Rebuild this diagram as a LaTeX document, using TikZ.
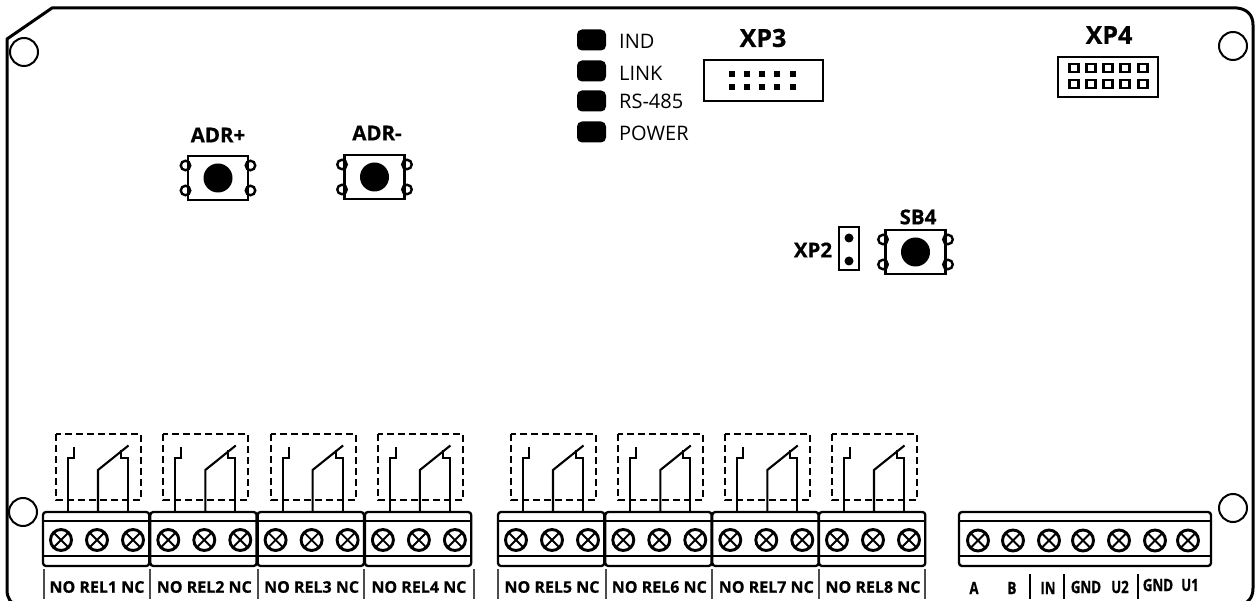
\documentclass[tikz,border=0pt]{standalone}
\usepackage{fontspec}
\setmainfont[BoldFeatures={FakeBold=0.6}]{Open Sans}
\newfontfamily\narrowfont[FakeStretch=0.78,BoldFeatures={FakeBold=0.6}]{Open Sans}
\tikzstyle{board} = [line width=3pt, line join=round]
\tikzstyle{hole} = [circle, draw=black, line width=2pt, minimum size=28pt, inner sep=0pt]
\tikzstyle{led} = [rectangle, rounded corners=5pt, fill=black, minimum width=29pt, minimum height=21pt, inner sep=0pt]
\tikzstyle{ledtext} = [anchor=west, inner sep=0pt, font=\fontsize{20}{20}\selectfont]
\tikzstyle{header} = [rectangle, draw=black, line width=2.2pt, inner sep=0pt]
\tikzstyle{headtext} = [inner sep=0pt, font=\fontsize{25}{25}\selectfont\bfseries]
\tikzstyle{keytext} = [inner sep=0pt, font=\fontsize{20.5}{20.5}\selectfont\bfseries]
\tikzstyle{reltext} = [inner sep=0pt, font=\fontsize{16}{16}\selectfont\bfseries]
\tikzstyle{pintext} = [inner sep=0pt, font=\fontsize{17}{17}\selectfont\narrowfont\bfseries]
\tikzstyle{keybody} = [rectangle, draw=black, line width=2.4pt, inner sep=0pt, minimum width=60pt, minimum height=44pt]
\tikzstyle{keycap} = [circle, fill=black, minimum size=29pt, inner sep=0pt]
\tikzstyle{lobe} = [circle, draw=black, line width=2.4pt, minimum size=9.5pt, inner sep=0pt]
\tikzstyle{screw} = [circle, draw=black, line width=2.9pt, minimum size=21pt, inner sep=0pt,
    path picture={\draw [line width=1.9pt] (path picture bounding box.north west) -- (path picture bounding box.south east)
    (path picture bounding box.north east) -- (path picture bounding box.south west);}]
\tikzstyle{terminal} = [line width=2.3pt, rounded corners=3pt]
\tikzstyle{wire} = [line width=2.1pt, line join=miter]
\tikzstyle{cover} = [line width=1.8pt, dash pattern=on 7pt off 4pt]
\tikzstyle{divider} = [line width=1.3pt, black!70]
\begin{document}
\begin{tikzpicture}[x=1pt, y=-1pt]
    \useasboundingbox (0,0) rectangle (1255,601);
    \begin{scope}
    \clip (0,0) rectangle (1255,601);
    \draw [board] (7,39) -- (52,8) -- (1237,8) .. controls (1247,9) and (1253,15) .. (1253,25) -- (1253,588)
        .. controls (1253,598) and (1248,604) .. (1238,605) -- (17,605) .. controls (11,604) and (7,598) .. (7,590) -- cycle;
    \end{scope}

    \node (holeTL) [hole] at (24,52) {};
    \node (holeTR) [hole] at (1233,46) {};
    \node (holeBL) [hole] at (23,512) {};
    \node (holeBR) [hole] at (1233,508) {};

    % LEDs
    \foreach \tag/\ypos/\ytext/\word in {ind/40/41/IND, link/71/73/LINK, rs/101/101/RS-485, power/132/133/POWER} {
        \node (led\tag) [led] at (591.5,\ypos) {};
        \node (text\tag) [ledtext] at (619,\ytext) {\word};
    }

    % XP3, XP4
    \node (xpthree) [header, minimum width=119pt, minimum height=41pt] at (763.5,80.5) {};
    \node (xpthreetext) [headtext] at (763,38) {XP3};
    \foreach \xpos in {732,747,762,777,793} \foreach \ypos in {74,87}
        \fill (\xpos-3,\ypos-3) rectangle (\xpos+3,\ypos+3);
    \node (xpfour) [header, minimum width=100pt, minimum height=40pt] at (1108,77) {};
    \node (xpfourtext) [headtext] at (1109,35) {XP4};
    \foreach \xpos in {1074,1091,1108,1125,1143} \foreach \ypos in {68,84}
        \draw [line width=2.2pt] (\xpos-4.5,\ypos-4) rectangle (\xpos+4.5,\ypos+4);

    % push buttons
    \foreach \tag/\xpos/\ypos/\word/\xtext/\ytext in {adrplus/218/178/ADR+/218/135, adrminus/374.5/177/ADR-/377/133, sbfour/915.5/252/SB4/918/217} {
        \foreach \side/\off in {l/-32.5,r/32.5} \foreach \dy in {-12.5,12.5}
            \node [lobe] at (\xpos+\off,\ypos+\dy) {};
        \node (\tag) [keybody] at (\xpos,\ypos) {};
        \node (\tag cap) [keycap] at (\xpos,\ypos) {};
        \node (\tag text) [keytext] at (\xtext,\ytext) {\word};
    }

    \node (xptwo) [header, line width=2.4pt, minimum width=20pt, minimum height=43pt] at (849,248.5) {};
    \node (xptwotext) [keytext] at (813,250) {XP2};
    \fill (849,238) circle (4.5) (849,261) circle (4.5);

    % relay outputs
    \foreach \n/\xpos in {1/43,2/150.3,3/257.6,4/364.9,5/498,6/605.3,7/712.3,8/819} {
        \draw [cover] (\xpos+13,434) rectangle (\xpos+98,500);
        \draw [wire] (\xpos+25,512) -- (\xpos+25,458) -- (\xpos+31,458) -- (\xpos+31,447);
        \draw [wire] (\xpos+55,512) -- (\xpos+55,470) -- (\xpos+85.5,445.5);
        \draw [wire] (\xpos+85,512) -- (\xpos+85,458) -- (\xpos+78,458) -- (\xpos+78,450);
        \draw [terminal, fill=white] (\xpos,512) rectangle (\xpos+106.3,566);
        \draw [line width=2pt] (\xpos,521) -- (\xpos+106.3,521) (\xpos,556) -- (\xpos+106.3,556);
        \foreach \tag/\off in {a/18,b/54,c/90}
            \node (screw\n\tag) [screw] at (\xpos+\off,540) {};
        \node (rel\n) [reltext] at (\xpos+54,587) {NO REL\n{} NC};
    }
    \foreach \xpos in {44,150,258,364,474,498,606,712,819,925}
        \draw [divider] (\xpos,569) -- (\xpos,599);

    % power and bus terminal
    \draw [terminal] (959,512) rectangle (1211,566);
    \draw [line width=2pt] (959,521) -- (1211,521) (959,556) -- (1211,556);
    \foreach \n/\xpos/\xtext/\ytext/\word in {1/978/974/588/A, 2/1013/1012/588/B, 3/1049/1048/588/IN, 4/1083/1086/587/GND, 5/1119/1120/587/U2, 6/1155/1158/585/GND, 7/1188/1190/585/U1} {
        \node (screwp\n) [screw] at (\xpos,540.5) {};
        \node (pin\n) [pintext] at (\xtext,\ytext) {\word};
    }
    \foreach \xpos in {1030,1064,1138}
        \draw [line width=1.8pt] (\xpos,574) -- (\xpos,599);
\end{tikzpicture}
\end{document}
